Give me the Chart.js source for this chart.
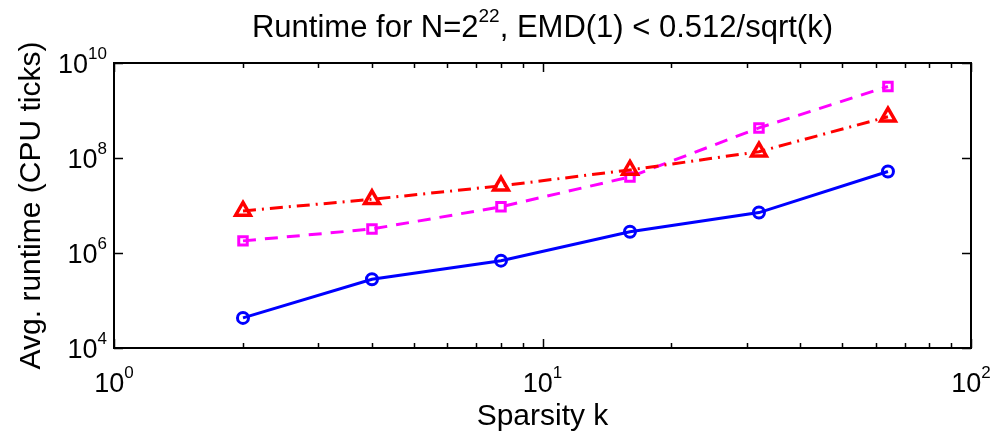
<!DOCTYPE html>
<html>
<head>
<meta charset="utf-8">
<script src="https://cdn.jsdelivr.net/npm/chart.js@4.4.1/dist/chart.umd.min.js"></script>
<style>
  html, body { margin: 0; padding: 0; background: #fff; }
  #wrap { width: 998px; height: 436px; }
</style>
</head>
<body>
<div id="wrap"><canvas id="runtimeChart" width="998" height="436"></canvas></div>
<script>
// sparsity values (x) and average runtime per method (CPU ticks)
const sparsity = [2, 4, 8, 16, 32, 64];
const runtimeBlue = [4.3e4, 2.8e5, 6.9e5, 2.8e6, 7.1e6, 5.2e7];
const runtimeRed = [7.7e6, 1.35e7, 2.6e7, 5.6e7, 1.36e8, 7.4e8];
const runtimeMagenta = [1.8e6, 3.2e6, 9.4e6, 4.0e7, 4.3e8, 3.2e9];

// decade exponents used for the tick labels
const xTickExps = [0, 1, 2];
const yTickExps = [4, 6, 8, 10];

const FONT = '"Liberation Sans", Arial, Helvetica, sans-serif';

function pts(vals) {
    return sparsity.map((k, i) => ({ x: k, y: vals[i] }));
}

// text with superscript parts, drawn left-to-right from x
function drawSup(ctx, parts, x, y, size, supSize, lift) {
    let cx = x;
    parts.forEach(p => {
        ctx.font = (p.sup ? supSize : size) + 'px ' + FONT;
        ctx.fillText(p.t, cx, p.sup ? y - lift : y);
        cx += ctx.measureText(p.t).width;
    });
}
function measureSup(ctx, parts, size, supSize) {
    let w = 0;
    parts.forEach(p => {
        ctx.font = (p.sup ? supSize : size) + 'px ' + FONT;
        w += ctx.measureText(p.t).width;
    });
    return w;
}

const matlabAxes = {
    id: 'matlabAxes',
    afterDraw(chart) {
        const ctx = chart.ctx;
        const a = chart.chartArea;
        const xs = chart.scales.x, ys = chart.scales.y;
        ctx.save();
        ctx.strokeStyle = '#000';
        ctx.fillStyle = '#000';
        ctx.lineWidth = 2;
        ctx.strokeRect(a.left, a.top, a.right - a.left, a.bottom - a.top);

        // x ticks (major + minor), bottom and top
        ctx.lineWidth = 1.5;
        ctx.beginPath();
        for (let d = 0; d < 2; d++) {
            for (let m = 1; m <= 10; m++) {
                const v = m * Math.pow(10, d);
                const px = Math.round(xs.getPixelForValue(v)) + 0.5;
                const len = (m === 1 || m === 10) ? 9 : 5;
                ctx.moveTo(px, a.bottom); ctx.lineTo(px, a.bottom - len);
                ctx.moveTo(px, a.top); ctx.lineTo(px, a.top + len);
            }
        }
        // y ticks, left and right
        yTickExps.forEach(e => {
            const py = Math.round(ys.getPixelForValue(Math.pow(10, e))) + 0.5;
            ctx.moveTo(a.left, py); ctx.lineTo(a.left + 9, py);
            ctx.moveTo(a.right, py); ctx.lineTo(a.right - 9, py);
        });
        ctx.stroke();

        ctx.textBaseline = 'alphabetic';
        ctx.textAlign = 'left';
        // x tick labels
        xTickExps.forEach(e => {
            const parts = [{ t: '10' }, { t: String(e), sup: true }];
            const w = measureSup(ctx, parts, 27, 17);
            const px = xs.getPixelForValue(Math.pow(10, e));
            drawSup(ctx, parts, px - w / 2, a.bottom + 44, 27, 17, 14);
        });
        // y tick labels
        yTickExps.forEach(e => {
            const parts = [{ t: '10' }, { t: String(e), sup: true }];
            const w = measureSup(ctx, parts, 27, 17);
            const py = ys.getPixelForValue(Math.pow(10, e));
            drawSup(ctx, parts, a.left - 7 - w, py + 10, 27, 17, 14);
        });

        // title
        const title = [{ t: 'Runtime for N=2' }, { t: '22', sup: true }, { t: ', EMD(1) < 0.512/sqrt(k)' }];
        const tw = measureSup(ctx, title, 31, 19);
        const cx = (a.left + a.right) / 2;
        drawSup(ctx, title, cx - tw / 2, 37, 31, 19, 15);

        // axis titles
        ctx.font = '30px ' + FONT;
        ctx.textAlign = 'center';
        ctx.fillText('Sparsity k', cx, 425);
        ctx.save();
        ctx.translate(40, (a.top + a.bottom) / 2);
        ctx.rotate(-Math.PI / 2);
        ctx.fillText('Avg. runtime (CPU ticks)', 0, 0);
        ctx.restore();
        ctx.restore();
    }
};

new Chart(document.getElementById('runtimeChart').getContext('2d'), {
    type: 'line',
    data: {
        datasets: [{
            label: 'blue',
            data: pts(runtimeBlue),
            borderColor: '#0000ff',
            backgroundColor: 'rgba(0,0,0,0)',
            borderWidth: 3,
            pointStyle: 'circle',
            pointRadius: 5.5,
            pointBorderWidth: 3,
            pointBorderColor: '#0000ff',
            tension: 0
        }, {
            label: 'red',
            data: pts(runtimeRed),
            borderColor: '#ff0000',
            backgroundColor: 'rgba(0,0,0,0)',
            borderWidth: 3,
            borderDash: [13, 6, 2, 6],
            pointStyle: 'triangle',
            pointRadius: 8.5,
            pointBorderWidth: 3.5,
            pointBorderColor: '#ff0000',
            tension: 0
        }, {
            label: 'magenta',
            data: pts(runtimeMagenta),
            borderColor: '#ff00ff',
            backgroundColor: 'rgba(0,0,0,0)',
            borderWidth: 3,
            borderDash: [13, 9],
            pointStyle: 'rect',
            pointRadius: 6,
            pointBorderWidth: 3,
            pointBorderColor: '#ff00ff',
            tension: 0
        }]
    },
    options: {
        responsive: false,
        animation: false,
        events: [],
        layout: {
            padding: { left: 114, right: 27, top: 63, bottom: 88 }
        },
        scales: {
            x: { type: 'logarithmic', min: 1, max: 100, display: false },
            y: { type: 'logarithmic', min: 1e4, max: 1e10, display: false }
        },
        plugins: {
            legend: { display: false },
            title: { display: false },
            tooltip: { enabled: false }
        }
    },
    plugins: [matlabAxes]
});
</script>
</body>
</html>
